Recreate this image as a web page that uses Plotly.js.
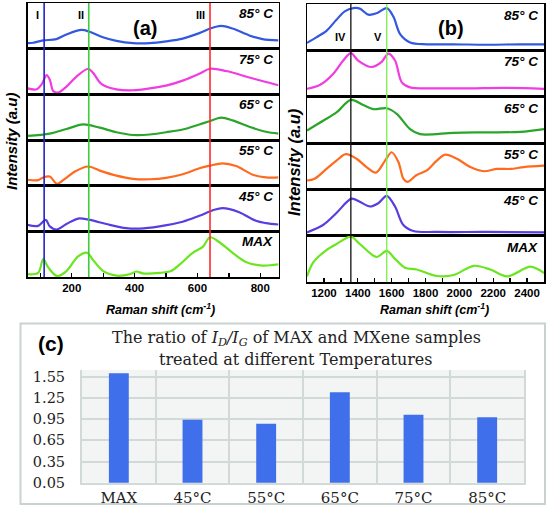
<!DOCTYPE html>
<html><head><meta charset="utf-8">
<script src="https://cdn.plot.ly/plotly-3.0.1.min.js"></script>
<style>html,body{margin:0;padding:0;background:#fff}#chart{width:552px;height:508px}</style>
</head><body><div id="chart"></div>
<script>
// ---------------- DATA ----------------
const stripLabels = ['85° C', '75° C', '65° C', '55° C', '45° C', 'MAX'];

// Panel (a): low-wavenumber Raman spectra (cm-1, relative intensity)
const aX85 = [59, 77, 109, 151, 183, 231, 257, 299, 342, 395, 448, 500, 553, 606, 640, 675, 712, 765, 807, 858];
const aY85 = [0.12, 0.13, 0.18, 0.21, 0.31, 0.41, 0.37, 0.25, 0.17, 0.12, 0.12, 0.16, 0.22, 0.34, 0.44, 0.50, 0.44, 0.29, 0.21, 0.18];
const aX75 = [59, 88, 104, 120, 130, 141, 157, 183, 215, 252, 268, 294, 342, 395, 448, 500, 553, 606, 640, 691, 765, 818, 858];
const aY75 = [0.13, 0.11, 0.22, 0.42, 0.32, 0.07, 0.04, 0.17, 0.39, 0.56, 0.47, 0.23, 0.11, 0.09, 0.13, 0.19, 0.30, 0.45, 0.56, 0.51, 0.37, 0.27, 0.20];
const aX65 = [59, 130, 183, 236, 289, 342, 395, 448, 500, 553, 606, 638, 675, 712, 765, 818, 858];
const aY65 = [0.09, 0.14, 0.24, 0.34, 0.27, 0.17, 0.11, 0.12, 0.17, 0.23, 0.34, 0.41, 0.49, 0.43, 0.29, 0.18, 0.14];
const aX55 = [59, 93, 109, 130, 153, 178, 210, 252, 289, 342, 395, 448, 500, 553, 606, 640, 680, 723, 776, 818, 858];
const aY55 = [0.13, 0.12, 0.18, 0.20, 0.04, 0.15, 0.31, 0.42, 0.33, 0.22, 0.15, 0.14, 0.17, 0.25, 0.38, 0.44, 0.49, 0.43, 0.24, 0.18, 0.18];
const aX45 = [59, 93, 117, 130, 151, 183, 220, 257, 310, 373, 416, 479, 553, 606, 649, 680, 733, 786, 818, 858];
const aY45 = [0.14, 0.12, 0.25, 0.11, 0.04, 0.16, 0.28, 0.25, 0.16, 0.07, 0.06, 0.11, 0.21, 0.34, 0.46, 0.51, 0.42, 0.23, 0.18, 0.15];
const aXMAX = [59, 93, 109, 125, 153, 183, 220, 249, 268, 300, 342, 384, 405, 426, 479, 516, 543, 585, 617, 640, 670, 712, 754, 807, 858];
const aYMAX = [0.06, 0.09, 0.39, 0.21, 0.02, 0.13, 0.45, 0.53, 0.37, 0.13, 0.03, 0.06, 0.12, 0.08, 0.09, 0.13, 0.27, 0.53, 0.66, 0.87, 0.76, 0.53, 0.33, 0.25, 0.28];

// Panel (b): D/G-band region
const bX85 = [1100, 1155, 1215, 1274, 1323, 1373, 1412, 1462, 1511, 1571, 1610, 1650, 1709, 1808, 1966, 2164, 2361, 2500];
const bY85 = [0.16, 0.28, 0.42, 0.66, 0.84, 0.91, 0.90, 0.77, 0.80, 0.91, 0.73, 0.35, 0.17, 0.13, 0.13, 0.12, 0.13, 0.13];
const bX75 = [1100, 1175, 1254, 1314, 1359, 1402, 1482, 1541, 1580, 1620, 1660, 1709, 1867, 2065, 2262, 2500];
const bY75 = [0.17, 0.25, 0.49, 0.78, 0.94, 0.78, 0.64, 0.75, 0.93, 0.78, 0.31, 0.20, 0.18, 0.18, 0.19, 0.17];
const bX65 = [1100, 1195, 1274, 1359, 1432, 1491, 1571, 1630, 1709, 1768, 1966, 2164, 2361, 2500];
const bY65 = [0.27, 0.48, 0.66, 0.93, 0.82, 0.73, 0.75, 0.63, 0.30, 0.19, 0.22, 0.23, 0.24, 0.30];
const bX55 = [1100, 1145, 1215, 1274, 1329, 1393, 1452, 1507, 1561, 1600, 1640, 1669, 1693, 1748, 1808, 1867, 1916, 1986, 2065, 2144, 2223, 2302, 2381, 2500];
const bY55 = [0.19, 0.23, 0.44, 0.62, 0.76, 0.66, 0.48, 0.36, 0.62, 0.80, 0.59, 0.23, 0.16, 0.31, 0.41, 0.62, 0.75, 0.66, 0.48, 0.39, 0.44, 0.44, 0.48, 0.51];
const bX45 = [1100, 1195, 1274, 1363, 1412, 1472, 1521, 1571, 1620, 1669, 1729, 1867, 2164, 2500];
const bY45 = [0.07, 0.23, 0.49, 0.80, 0.73, 0.63, 0.70, 0.86, 0.63, 0.23, 0.10, 0.08, 0.08, 0.07];
const bXMAX = [1100, 1136, 1215, 1274, 1359, 1412, 1511, 1571, 1620, 1679, 1748, 1867, 1966, 2085, 2183, 2282, 2421, 2500];
const bYMAX = [0.12, 0.42, 0.69, 0.82, 0.98, 0.82, 0.54, 0.67, 0.50, 0.31, 0.27, 0.13, 0.15, 0.35, 0.27, 0.12, 0.33, 0.19];

const bandsA = [112, 254, 640];
const bandLabelsA = ['I', 'II', 'III'];
const bandsB = [1359, 1571];
const bandLabelsB = ['IV', 'V'];

// Panel (c): ID/IG ratio
const barCategories = ['MAX', '45°C', '55°C', '65°C', '75°C', '85°C'];
const barRatios = [1.60, 0.94, 0.885, 1.33, 1.01, 0.975];
const barTickValues = [0.05, 0.35, 0.65, 0.95, 1.25, 1.55];

// ---------------- STYLE / LAYOUT ----------------
const W = 552, H = 508;
const stripColors = ['#3358e0', '#f03ce0', '#2aa52a', '#ff6a1f', '#5a3ce0', '#6ae61e'];
const bandColorsA = ['#2323c8', '#3ccc3c', '#ff2a2a'];
const bandColorsB = ['#111111', '#7aee48'];
const SANS = 'Liberation Sans, Arial, sans-serif';
const SERIF = 'DejaVu Serif, serif';

const px = v => v / W;
const py = v => 1 - v / H;
const sfx = n => (n === 1 ? '' : String(n));

const A = [[aX85, aY85], [aX75, aY75], [aX65, aY65], [aX55, aY55], [aX45, aY45], [aXMAX, aYMAX]];
const B = [[bX85, bY85], [bX75, bY75], [bX65, bY65], [bX55, bY55], [bX45, bY45], [bXMAX, bYMAX]];

const panels = [
  {data: A, n0: 1, left: 27.5, right: 278.5, top: 3, bottom: 277, range: [59, 858], lblX: 0.985, lblDY: 0.98},
  {data: B, n0: 7, left: 307, right: 544, top: 4, bottom: 282, range: [1100, 2500], lblX: 0.985, lblDY: 0.96}
];

const traces = [];
const layout = {
  width: W, height: H, margin: {l: 0, r: 0, t: 0, b: 0},
  paper_bgcolor: '#fff', plot_bgcolor: 'rgba(0,0,0,0)',
  showlegend: false, annotations: [], shapes: [],
  font: {family: SANS, color: '#000'}
};

panels.forEach(p => {
  const h = (p.bottom - p.top) / 6;
  p.data.forEach((d, i) => {
    const n = p.n0 + i, s = sfx(n);
    const top = p.top + i * h, bot = top + h;
    const isBottom = i === 5;
    traces.push({
      x: d[0], y: d[1], xaxis: 'x' + s, yaxis: 'y' + s, type: 'scatter', mode: 'lines',
      line: {color: stripColors[i], width: 2.2, shape: 'spline', smoothing: 0.9}, hoverinfo: 'skip'
    });
    layout['xaxis' + s] = {
      domain: [px(p.left), px(p.right)], anchor: 'y' + s, range: p.range,
      showline: true, mirror: true, linecolor: '#000', linewidth: 1.5,
      showgrid: false, zeroline: false, showticklabels: isBottom,
      ticks: isBottom ? 'inside' : '', tick0: 0, dtick: 200, ticklen: 4, tickwidth: 1.3, tickcolor: '#000',
      tickfont: {family: SANS, size: 11.5, weight: 'bold', color: '#000'},
      minor: isBottom ? {dtick: 100, ticks: 'inside', ticklen: 4, tickwidth: 1.3, tickcolor: '#000'} : {ticks: ''}
    };
    layout['yaxis' + s] = {
      domain: [py(bot), py(top)], anchor: 'x' + s, range: [0, 1],
      showline: true, mirror: true, linecolor: '#000', linewidth: 1.5,
      showgrid: false, zeroline: false, showticklabels: false, ticks: ''
    };
    layout.annotations.push({
      xref: 'x' + s + ' domain', yref: 'y' + s + ' domain', x: p.lblX, y: p.lblDY,
      xanchor: 'right', yanchor: 'top', showarrow: false,
      text: '<b><i>' + stripLabels[i] + '</i></b>', font: {family: SANS, size: 13.5, color: '#000'}
    });
  });
});

// band marker lines
const aBot = sfx(6), bBot = sfx(12);
bandsA.forEach((b, i) => {
  layout.shapes.push({type: 'line', xref: 'x' + aBot, yref: 'paper', x0: b, x1: b, y0: py(277), y1: py(3),
    line: {color: bandColorsA[i], width: 1.6}});
  layout.annotations.push({xref: 'x', yref: 'paper', x: b, y: py(15), xanchor: 'right', yanchor: 'middle', xshift: -3,
    showarrow: false, text: '<b>' + bandLabelsA[i] + '</b>', font: {family: SANS, size: 11, color: '#000'}});
});
bandsB.forEach((b, i) => {
  layout.shapes.push({type: 'line', xref: 'x' + bBot, yref: 'paper', x0: b, x1: b, y0: py(282), y1: py(4),
    line: {color: bandColorsB[i], width: 1.3}});
  layout.annotations.push({xref: 'x7', yref: 'paper', x: b, y: py(37), xanchor: 'right', yanchor: 'middle', xshift: -3,
    showarrow: false, text: '<b>' + bandLabelsB[i] + '</b>', font: {family: SANS, size: 11, color: '#000'}});
});

// panel letters and axis titles
const ann = (x, y, text, font, extra) => layout.annotations.push(Object.assign({
  xref: 'paper', yref: 'paper', x: px(x), y: py(y), xanchor: 'center', yanchor: 'middle', showarrow: false, text, font
}, extra || {}));
ann(145, 27.5, '<b>(a)</b>', {family: SANS, size: 20, color: '#000'});
ann(451, 27.5, '<b>(b)</b>', {family: SANS, size: 20, color: '#000'});
ann(12, 141, '<b><i>Intensity (a.u)</i></b>', {family: SANS, size: 15, color: '#000'}, {textangle: -90});
ann(294, 162, '<b><i>Intensity (a.u)</i></b>', {family: SANS, size: 16.5, color: '#000'}, {textangle: -90});
ann(160, 309, '<b><i>Raman shift (cm<sup>-1</sup>)</i></b>', {family: SANS, size: 12.5, color: '#000'});
ann(435, 309, '<b><i>Raman shift (cm<sup>-1</sup>)</i></b>', {family: SANS, size: 12.5, color: '#000'});

// ---------- panel (c) ----------
const gridC = '#d2d9d9';
traces.push({
  x: barCategories, y: barRatios, type: 'bar', xaxis: 'x13', yaxis: 'y13',
  width: 0.27, marker: {color: '#3f6fea', line: {width: 0}}, hoverinfo: 'skip'
});
layout.xaxis13 = {
  domain: [px(82), px(524)], anchor: 'y13', type: 'category',
  tickson: 'boundaries', showgrid: true, gridcolor: gridC, gridwidth: 2,
  showline: true, linecolor: gridC, linewidth: 2, zeroline: false,
  ticks: 'outside', ticklen: 5, tickcolor: 'rgba(0,0,0,0)',
  tickfont: {family: SERIF, size: 15, color: '#222'}
};
layout.yaxis13 = {
  domain: [py(482.7), py(370)], anchor: 'x13', range: [0.05, 1.645],
  tickvals: barTickValues, ticktext: barTickValues.map(v => v.toFixed(2)),
  showgrid: true, gridcolor: gridC, gridwidth: 2, zeroline: false,
  showline: true, mirror: true, linecolor: gridC, linewidth: 2,
  ticks: 'outside', ticklen: 12, tickcolor: 'rgba(0,0,0,0)',
  tickfont: {family: SERIF, size: 14.5, color: '#222'}
};
layout.shapes.push({type: 'rect', xref: 'x13 domain', yref: 'y13 domain', x0: 0, x1: 1, y0: 0, y1: 1,
  fillcolor: '#f3f4f4', line: {width: 0}, layer: 'below'});
layout.shapes.push({type: 'rect', xref: 'paper', yref: 'paper', x0: px(20.5), x1: px(545), y0: py(504), y1: py(323.5),
  fillcolor: 'rgba(0,0,0,0)', line: {color: '#c9d1d1', width: 2}});
ann(50.5, 343, '<b>(c)</b>', {family: SANS, size: 21, color: '#000'});
ann(296, 338.5, 'The ratio of <i>I<sub>D</sub>/I<sub>G</sub></i> of MAX and MXene samples', {family: SERIF, size: 16, color: '#222'});
ann(296, 359.5, 'treated at different Temperatures', {family: SERIF, size: 16, color: '#222'});

Plotly.newPlot('chart', traces, layout, {staticPlot: true, displayModeBar: false});
</script>
</body></html>
